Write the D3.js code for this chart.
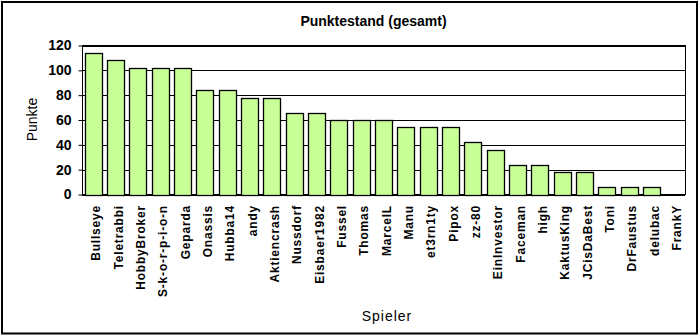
<!DOCTYPE html>
<html>
<head>
<meta charset="utf-8">
<script src="https://cdn.jsdelivr.net/npm/d3@7"></script>
<style>
  body { margin: 0; background: #fff; }
  text { font-family: "Liberation Sans", Arial, sans-serif; fill: #000; }
</style>
</head>
<body>
<div id="chart"></div>
<script>
// Spieler und Punkte
const players = ["Bullseye", "Teletrabbi", "HobbyBroker", "S-k-o-r-p-i-o-n", "Geparda", "Onassis",
  "Hubba14", "andy", "Aktiencrash", "Nussdorf", "Eisbaer1982", "Fussel", "Thomas", "MarcelL",
  "Manu", "et3rn1ty", "Pipox", "zz-80", "EinInvestor", "Faceman", "high", "KaktusKing",
  "JCisDaBest", "Toni", "DrFaustus", "delubac", "FrankY"];
const points = [114, 108, 102, 102, 102, 84, 84, 78, 78, 66, 66, 60, 60, 60,
  54, 54, 54, 42, 36, 24, 24, 18, 18, 6, 6, 6, 0];
const yTicks = [0, 20, 40, 60, 80, 100, 120];

const W = 699, H = 336;
const plot = { left: 82, right: 685, top: 45, bottom: 194 };

const svg = d3.select("#chart").append("svg")
  .attr("width", W)
  .attr("height", H);

// outer frame
svg.append("rect")
  .attr("x", 2).attr("y", 2)
  .attr("width", 695).attr("height", 331.5)
  .attr("fill", "#fff")
  .attr("stroke", "#000")
  .attr("stroke-width", 2);

const x = d3.scaleBand()
  .domain(players)
  .range([plot.left, plot.right])
  .paddingInner(0.24)
  .paddingOuter(0.12);

const y = d3.scaleLinear()
  .domain([0, 120])
  .range([plot.bottom + 0.5, plot.top + 0.5]);

// gridlines
svg.append("g")
  .selectAll("line")
  .data(yTicks)
  .enter()
  .append("line")
  .attr("x1", plot.left)
  .attr("x2", plot.right)
  .attr("y1", d => Math.round(y(d)) + 0.5)
  .attr("y2", d => Math.round(y(d)) + 0.5)
  .attr("stroke", "#000")
  .attr("stroke-width", 1);

// plot area border
svg.append("rect")
  .attr("x", plot.left + 0.5)
  .attr("y", plot.top + 0.5)
  .attr("width", plot.right - plot.left)
  .attr("height", plot.bottom - plot.top)
  .attr("fill", "none")
  .attr("stroke", "#000");

// bars
svg.append("g")
  .selectAll("rect")
  .data(points)
  .enter()
  .append("rect")
  .attr("x", (d, i) => Math.round(x(players[i])) + 0.5)
  .attr("y", d => Math.round(y(d)) + 0.5)
  .attr("width", Math.round(x.bandwidth()))
  .attr("height", d => Math.round(y(0)) - Math.round(y(d)))
  .attr("fill", "#c8ff96")
  .attr("stroke", "#000")
  .attr("stroke-width", 1.3);

// y axis
const yAxis = svg.append("g")
  .attr("transform", "translate(" + (plot.left + 0.5) + ",0)")
  .call(d3.axisLeft(y).tickValues(yTicks).tickSize(4).tickPadding(7));
yAxis.select(".domain").remove();
yAxis.selectAll("line").attr("stroke", "#000");
yAxis.selectAll("text")
  .attr("font-size", 14)
  .attr("font-weight", "bold")
  .attr("font-family", "'Liberation Sans', Arial, sans-serif");

// x labels
svg.append("g")
  .selectAll("text")
  .data(players)
  .enter()
  .append("text")
  .attr("transform", d => "translate(" + (x(d) + x.bandwidth() / 2 + 3) + ",205) rotate(-90)")
  .attr("dy", "0.35em")
  .attr("text-anchor", "end")
  .attr("font-size", 12)
  .attr("font-weight", "bold")
  .attr("letter-spacing", 0.8)
  .text(d => d);

// title
svg.append("text")
  .attr("x", 373.5)
  .attr("y", 26)
  .attr("text-anchor", "middle")
  .attr("font-size", 14)
  .attr("font-weight", "bold")
  .text("Punktestand (gesamt)");

// axis titles
svg.append("text")
  .attr("transform", "translate(37," + ((plot.top + plot.bottom) / 2) + ") rotate(-90)")
  .attr("text-anchor", "middle")
  .attr("font-size", 14)
  .text("Punkte");

svg.append("text")
  .attr("x", 387)
  .attr("y", 321)
  .attr("text-anchor", "middle")
  .attr("font-size", 14)
  .attr("letter-spacing", 1)
  .text("Spieler");
</script>
</body>
</html>
